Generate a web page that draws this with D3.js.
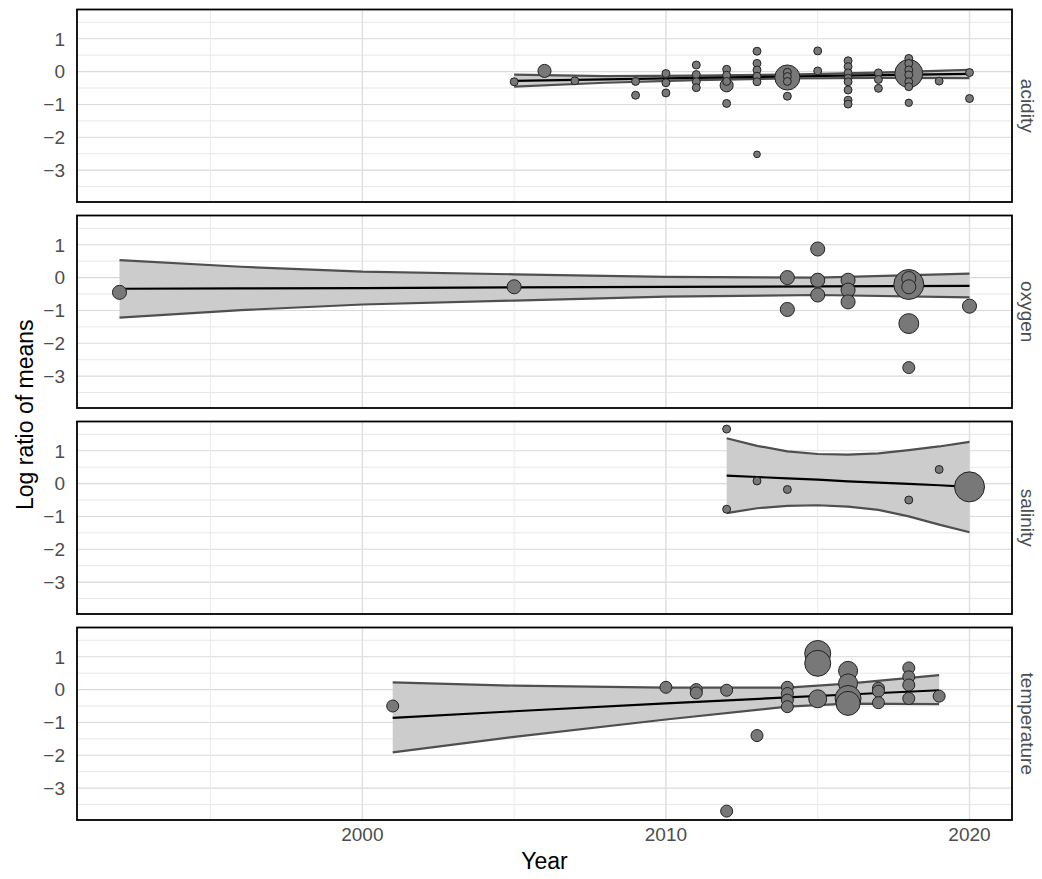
<!DOCTYPE html>
<html>
<head>
<meta charset="utf-8">
<script src="https://cdn.jsdelivr.net/npm/d3@7"></script>
<style>
  html, body { margin: 0; padding: 0; background: #ffffff; }
  svg { display: block; font-family: "Liberation Sans", Arial, sans-serif; }
</style>
</head>
<body>
<svg id="chart" width="1042" height="879"></svg>
<script>
// ---------------- data ----------------
const facets = ["acidity", "oxygen", "salinity", "temperature"];
const xTicks = [2000, 2010, 2020];
const yTicks = [-3, -2, -1, 0, 1];

// [year, log ratio of means, weight]
const acidityPoints = [
  [2014, -0.18, 70], [2018, -0.06, 87],
  [2005, -0.31, 7], [2006, 0.02, 19], [2007, -0.28, 7],
  [2009, -0.30, 7], [2009, -0.72, 7],
  [2010, -0.06, 7], [2010, -0.34, 7], [2010, -0.65, 7],
  [2011, 0.20, 7], [2011, -0.09, 7], [2011, -0.31, 7], [2011, -0.49, 7],
  [2012, -0.42, 19], [2012, 0.07, 7], [2012, -0.11, 7], [2012, -0.30, 7], [2012, -0.97, 7],
  [2013, 0.62, 7], [2013, 0.25, 7], [2013, 0.05, 7], [2013, -0.14, 7], [2013, -0.31, 7], [2013, -2.52, 5],
  [2014, -0.02, 7], [2014, -0.15, 7], [2014, -0.30, 7], [2014, -0.75, 7],
  [2015, 0.63, 7], [2015, 0.02, 7],
  [2016, 0.33, 7], [2016, 0.15, 7], [2016, -0.04, 7], [2016, -0.20, 7], [2016, -0.31, 7],
  [2016, -0.56, 7], [2016, -0.87, 7], [2016, -0.99, 7],
  [2017, -0.04, 7], [2017, -0.24, 7], [2017, -0.51, 7],
  [2018, 0.40, 7], [2018, 0.25, 7], [2018, 0.05, 7], [2018, -0.10, 7], [2018, -0.31, 7],
  [2018, -0.46, 7], [2018, -0.95, 6],
  [2019, -0.29, 7],
  [2020, -0.03, 7], [2020, -0.82, 7]
];
const oxygenPoints = [
  [2018, -0.21, 100],
  [1992, -0.45, 22], [2005, -0.28, 22],
  [2014, 0.00, 22], [2014, -0.97, 22],
  [2015, 0.87, 22], [2015, -0.08, 22], [2015, -0.53, 22],
  [2016, -0.08, 22], [2016, -0.38, 22], [2016, -0.74, 22],
  [2018, -0.03, 22], [2018, -0.28, 22], [2018, -1.40, 44], [2018, -2.74, 16],
  [2020, -0.87, 22]
];
const salinityPoints = [
  [2012, 1.66, 7], [2012, -0.78, 7], [2013, 0.08, 7], [2014, -0.18, 7],
  [2018, -0.50, 7], [2019, 0.43, 7], [2020, -0.10, 100]
];
const temperaturePoints = [
  [2001, -0.50, 16], [2010, 0.07, 16], [2011, 0.00, 16], [2011, -0.10, 16],
  [2012, -0.02, 16], [2012, -3.70, 16], [2013, -1.40, 16],
  [2014, 0.07, 16], [2014, -0.12, 16], [2014, -0.32, 16], [2014, -0.52, 16],
  [2015, 1.10, 75], [2015, 0.80, 75], [2015, -0.28, 36],
  [2016, 0.57, 40], [2016, 0.19, 40], [2016, -0.27, 75], [2016, -0.42, 64],
  [2017, 0.04, 16], [2017, -0.05, 16], [2017, -0.40, 16],
  [2018, 0.66, 16], [2018, 0.39, 16], [2018, 0.14, 16], [2018, -0.27, 16],
  [2019, -0.20, 16]
];

// fitted trend with confidence band: [year, estimate, lower, upper]
const acidityFit = [
  [2005, -0.28, -0.46, -0.09], [2008, -0.24, -0.34, -0.14], [2011, -0.19, -0.26, -0.12],
  [2014, -0.15, -0.21, -0.09], [2017, -0.11, -0.19, -0.03], [2020, -0.07, -0.20, 0.05]
];
const oxygenFit = [
  [1992, -0.34, -1.22, 0.53], [1996, -0.33, -0.99, 0.33], [2000, -0.32, -0.82, 0.18],
  [2005, -0.30, -0.70, 0.10], [2010, -0.28, -0.58, 0.02], [2015, -0.27, -0.53, 0.00],
  [2020, -0.25, -0.60, 0.12]
];
const salinityFit = [
  [2012, 0.24, -0.90, 1.38], [2013, 0.20, -0.75, 1.15], [2014, 0.16, -0.68, 0.98],
  [2015, 0.12, -0.66, 0.90], [2016, 0.07, -0.70, 0.88], [2017, 0.03, -0.80, 0.92],
  [2018, -0.01, -1.00, 1.02], [2019, -0.05, -1.25, 1.13], [2020, -0.10, -1.48, 1.27]
];
const temperatureFit = [
  [2001, -0.86, -1.91, 0.22], [2005, -0.66, -1.44, 0.12], [2010, -0.42, -0.91, 0.06],
  [2014, -0.24, -0.52, 0.06], [2016, -0.15, -0.43, 0.18], [2019, -0.02, -0.44, 0.44]
];

const pointsByFacet = { acidity: acidityPoints, oxygen: oxygenPoints, salinity: salinityPoints, temperature: temperaturePoints };
const fitByFacet = { acidity: acidityFit, oxygen: oxygenFit, salinity: salinityFit, temperature: temperatureFit };

// ---------------- layout ----------------
const svg = d3.select("#chart");
const left = 77, right = 1012;
const panelTop0 = 9.5, panelH = 192.5, panelGap = 13.5;
const x = d3.scaleLinear().domain([1990.6, 2021.4]).range([left, right]);
const r = d3.scaleSqrt().domain([0, 100]).range([0, 15]);
const fmt = d => (d < 0 ? "\u2212" + Math.abs(d) : String(d));
const tickFont = 19, titleFont = 23;

facets.forEach((name, i) => {
  const top = panelTop0 + i * (panelH + panelGap);
  const y = d3.scaleLinear().domain([-3.97, 1.89]).range([top + panelH, top]);
  const g = svg.append("g");

  const clipId = "clip-" + name;
  svg.append("clipPath").attr("id", clipId)
    .append("rect").attr("x", left).attr("y", top).attr("width", right - left).attr("height", panelH);

  // grid
  const hGrid = d3.range(-3.5, 1.51, 0.5);
  g.selectAll(".hg").data(hGrid).join("line")
    .attr("x1", left).attr("x2", right)
    .attr("y1", d => y(d)).attr("y2", d => y(d))
    .attr("stroke", d => Number.isInteger(d) ? "#d9d9d9" : "#e4e4e4")
    .attr("stroke-width", d => Number.isInteger(d) ? 1.1 : 0.9);
  const vGrid = d3.range(1995, 2021, 5);
  g.selectAll(".vg").data(vGrid).join("line")
    .attr("y1", top).attr("y2", top + panelH)
    .attr("x1", d => x(d)).attr("x2", d => x(d))
    .attr("stroke", d => d % 10 === 0 ? "#e0e0e0" : "#ebebeb")
    .attr("stroke-width", d => d % 10 === 0 ? 1.5 : 1);

  const inner = g.append("g").attr("clip-path", `url(#${clipId})`);
  const fit = fitByFacet[name];

  // band
  inner.append("path").datum(fit)
    .attr("d", d3.area().x(d => x(d[0])).y0(d => y(d[2])).y1(d => y(d[3])))
    .attr("fill", "#cccccc");
  [2, 3].forEach(k => {
    inner.append("path").datum(fit)
      .attr("d", d3.line().x(d => x(d[0])).y(d => y(d[k])))
      .attr("fill", "none").attr("stroke", "#4f4f4f").attr("stroke-width", 2.2);
  });
  inner.append("path").datum(fit)
    .attr("d", d3.line().x(d => x(d[0])).y(d => y(d[1])))
    .attr("fill", "none").attr("stroke", "#000").attr("stroke-width", 2.2);

  // points
  inner.selectAll("circle").data(pointsByFacet[name]).join("circle")
    .attr("cx", d => x(d[0])).attr("cy", d => y(d[1])).attr("r", d => r(d[2]))
    .attr("fill", "#787878").attr("stroke", "#222").attr("stroke-width", 1);

  // border
  g.append("rect").attr("x", left).attr("y", top).attr("width", right - left).attr("height", panelH)
    .attr("fill", "none").attr("stroke", "#000").attr("stroke-width", 1.8);

  // y tick labels
  g.selectAll(".yt").data(yTicks).join("text")
    .attr("x", 65).attr("y", d => y(d)).attr("dy", "0.36em")
    .attr("text-anchor", "end").attr("font-size", tickFont).attr("fill", "#4d4d4d")
    .text(fmt);

  // strip label
  g.append("text")
    .attr("transform", `translate(${1021},${top + panelH / 2}) rotate(90)`)
    .attr("text-anchor", "middle").attr("font-size", tickFont).attr("fill", "#4d4d4d")
    .text(name);
});

// x tick labels
const bottom = panelTop0 + 3 * (panelH + panelGap) + panelH;
svg.selectAll(".xt").data(xTicks).join("text")
  .attr("x", d => x(d)).attr("y", bottom + 14).attr("dy", "0.36em")
  .attr("text-anchor", "middle").attr("font-size", tickFont).attr("fill", "#4d4d4d")
  .text(d => d);

// axis titles
svg.append("text").attr("x", (left + right) / 2).attr("y", bottom + 41).attr("dy", "0.36em")
  .attr("text-anchor", "middle").attr("font-size", titleFont).attr("fill", "#000").text("Year");
svg.append("text")
  .attr("transform", `translate(25,${(panelTop0 + bottom) / 2}) rotate(-90)`)
  .attr("text-anchor", "middle").attr("dy", "0.36em")
  .attr("font-size", titleFont).attr("fill", "#000").text("Log ratio of means");
</script>
</body>
</html>
